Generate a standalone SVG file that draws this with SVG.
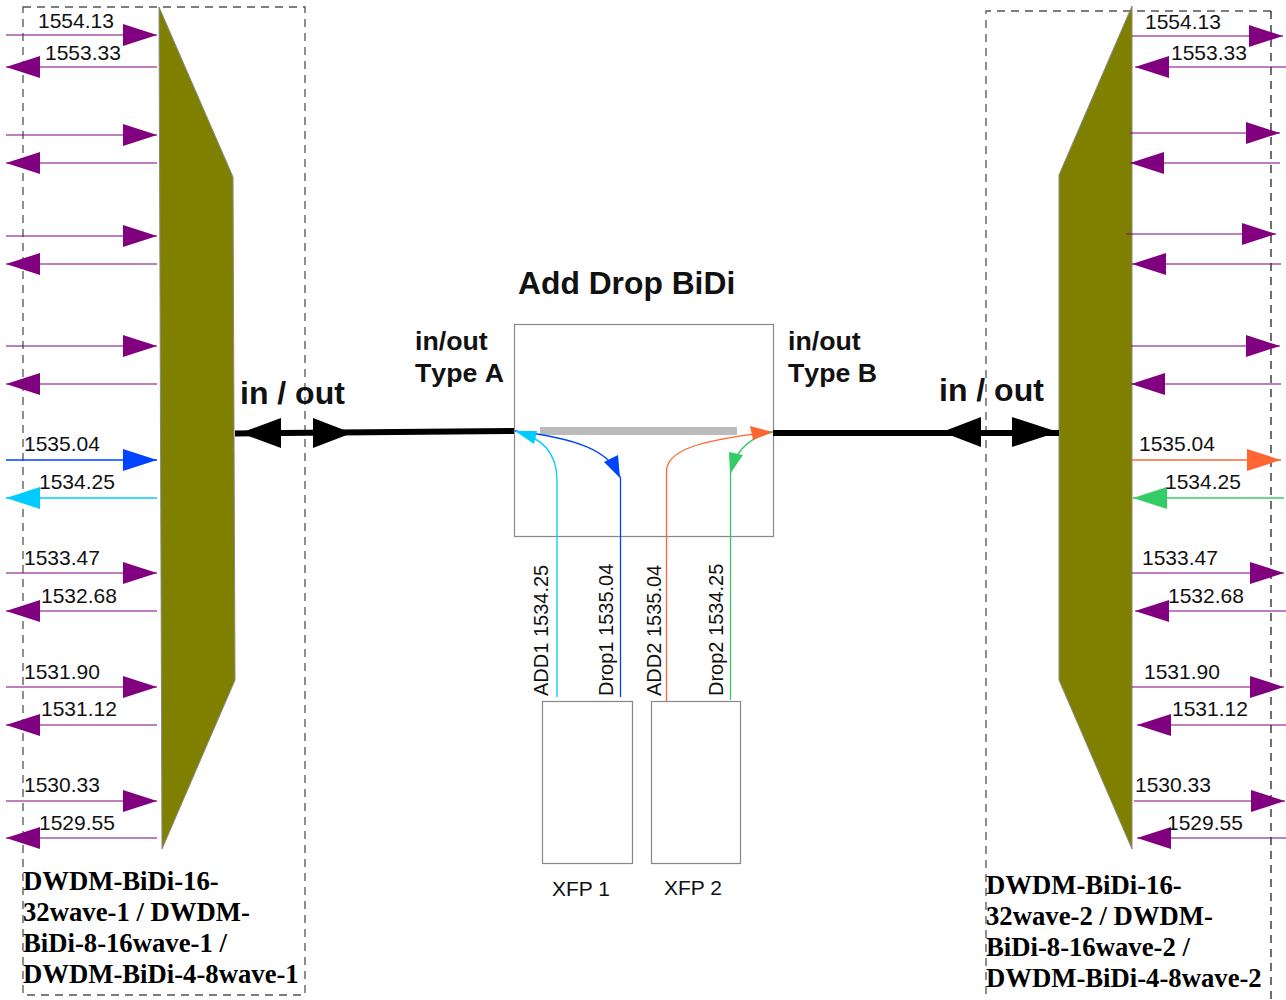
<svg xmlns="http://www.w3.org/2000/svg" width="1286" height="1000" viewBox="0 0 1286 1000">
<style>
text{font-family:"Liberation Sans",Arial,sans-serif;fill:#111}
.w{font-size:21px}
.r{font-size:20px}
.b{font-weight:bold;font-size:26.7px;font-kerning:none}
.io{font-weight:bold;font-size:32px}
.t{font-weight:bold;font-size:31.8px}
.s{font-family:"Liberation Serif","Times New Roman",serif;font-weight:bold;font-size:26.7px;fill:#000}
.d{fill:none;stroke:#555;stroke-width:1.3;stroke-dasharray:8 6}
.box{fill:#fff;stroke:#888;stroke-width:1.2}
.mux{fill:#808000;stroke:#888;stroke-width:1}
.p{stroke:#800080;stroke-width:1.2;fill:none}
.pb{stroke:#0044ff;stroke-width:1.4;fill:none}
.pc{stroke:#00ccff;stroke-width:1.4;fill:none}
.po{stroke:#ff6633;stroke-width:1.4;fill:none}
.pg{stroke:#33cc66;stroke-width:1.4;fill:none}
.c{fill:none;stroke-width:1.3}
</style>
<defs>
<marker id="mp" markerUnits="userSpaceOnUse" markerWidth="34" markerHeight="24" refX="34" refY="12" orient="auto"><path d="M0 1L34 12L0 23Z" fill="#800080"/></marker>
<marker id="mb" markerUnits="userSpaceOnUse" markerWidth="34" markerHeight="24" refX="34" refY="12" orient="auto"><path d="M0 1L34 12L0 23Z" fill="#0044ff"/></marker>
<marker id="mc" markerUnits="userSpaceOnUse" markerWidth="34" markerHeight="24" refX="34" refY="12" orient="auto"><path d="M0 1L34 12L0 23Z" fill="#00ccff"/></marker>
<marker id="mo" markerUnits="userSpaceOnUse" markerWidth="34" markerHeight="24" refX="34" refY="12" orient="auto"><path d="M0 1L34 12L0 23Z" fill="#ff6633"/></marker>
<marker id="mg" markerUnits="userSpaceOnUse" markerWidth="34" markerHeight="24" refX="34" refY="12" orient="auto"><path d="M0 1L34 12L0 23Z" fill="#33cc66"/></marker>
</defs>
<g id="frame-left"><rect class="d" x="23" y="7" width="282" height="988"/></g>
<g id="frame-right"><path class="d" d="M1271 11H986V1000"/><path class="d" style="stroke:#222" d="M1271 11V1000"/></g>
<g id="mux-left"><path class="mux" d="M159 7L233 177L235 680L162 849Z"/>
<text class="s"><tspan x="23" y="890">DWDM-BiDi-16-</tspan><tspan x="23" y="921">32wave-1 / DWDM-</tspan><tspan x="23" y="952">BiDi-8-16wave-1 /</tspan><tspan x="23" y="983">DWDM-BiDi-4-8wave-1</tspan></text></g>
<g id="mux-right"><path class="mux" d="M1132 6L1059 175L1059 680L1132 849Z"/>
<text class="s"><tspan x="986" y="894">DWDM-BiDi-16-</tspan><tspan x="986" y="925">32wave-2 / DWDM-</tspan><tspan x="986" y="956">BiDi-8-16wave-2 /</tspan><tspan x="986" y="987">DWDM-BiDi-4-8wave-2</tspan></text></g>
<g id="add-drop-bidi"><rect class="box" x="514.500" y="324.500" width="259" height="212"/><rect x="540" y="427" width="197" height="8" fill="#bbb"/>
<text class="t" x="518" y="294">Add Drop BiDi</text>
<text class="b" x="415" y="350">in/out</text><text class="b" x="415" y="382">Type A</text>
<text class="b" x="788" y="350">in/out</text><text class="b" x="788" y="382">Type B</text></g>
<g id="xfp-1"><rect class="box" x="542.500" y="701.500" width="90" height="162"/><text class="w" x="552" y="896">XFP 1</text></g>
<g id="xfp-2"><rect class="box" x="651.500" y="701.500" width="89" height="162"/><text class="w" x="664" y="895">XFP 2</text></g>
<g id="connectors">
<path class="p" marker-end="url(#mp)" d="M6 35H157"/><path class="p" marker-end="url(#mp)" d="M157 67H6"/>
<path class="p" marker-end="url(#mp)" d="M6 135H157"/><path class="p" marker-end="url(#mp)" d="M157 163H6"/>
<path class="p" marker-end="url(#mp)" d="M6 236H157"/><path class="p" marker-end="url(#mp)" d="M157 264H6"/>
<path class="p" marker-end="url(#mp)" d="M6 346H157"/><path class="p" marker-end="url(#mp)" d="M157 384H6"/>
<path class="pb" marker-end="url(#mb)" d="M6 460H157"/><path class="pc" marker-end="url(#mc)" d="M157 498H6"/>
<path class="p" marker-end="url(#mp)" d="M6 573H157"/><path class="p" marker-end="url(#mp)" d="M157 611H6"/>
<path class="p" marker-end="url(#mp)" d="M6 687H157"/><path class="p" marker-end="url(#mp)" d="M157 725H6"/>
<path class="p" marker-end="url(#mp)" d="M6 801H157"/><path class="p" marker-end="url(#mp)" d="M157 838H6"/>
<path class="p" marker-end="url(#mp)" d="M1132 36H1283"/><path class="p" marker-end="url(#mp)" d="M1286 67H1135"/>
<path class="p" marker-end="url(#mp)" d="M1130 133H1280"/><path class="p" marker-end="url(#mp)" d="M1280 163H1130"/>
<path class="p" marker-end="url(#mp)" d="M1126 234H1276"/><path class="p" marker-end="url(#mp)" d="M1281 264H1132"/>
<path class="p" marker-end="url(#mp)" d="M1131 346H1280"/><path class="p" marker-end="url(#mp)" d="M1281 384H1131"/>
<path class="po" marker-end="url(#mo)" d="M1132 460H1281"/><path class="pg" marker-end="url(#mg)" d="M1284 498H1133"/>
<path class="p" marker-end="url(#mp)" d="M1132 573H1284"/><path class="p" marker-end="url(#mp)" d="M1286 611H1135"/>
<path class="p" marker-end="url(#mp)" d="M1132 687H1284"/><path class="p" marker-end="url(#mp)" d="M1286 725H1137"/>
<path class="p" marker-end="url(#mp)" d="M1134 801H1285"/><path class="p" marker-end="url(#mp)" d="M1286 838H1137"/>
<path d="M235 433.500L514 431" stroke="#000" stroke-width="6" fill="none"/>
<path d="M773 433H1059" stroke="#000" stroke-width="6" fill="none"/>
<path d="M240 433L281 418V448Z M352 433L313 418V448Z M942 432L981 417V447Z M1058 432L1012 417V447Z" fill="#000"/>
<path class="c" stroke="#00ccff" d="M557 697V480C557 455 545 438 515 431"/>
<path class="c" stroke="#0044ff" d="M620.500 697V478C610 450 575 438 515 431"/>
<path class="c" stroke="#ff6633" d="M666.500 701V472C666 450 700 440 772 432"/>
<path class="c" stroke="#33cc66" d="M730.500 700V474C735 450 750 437 773 432"/>
<path d="M515 431L537 431L534 444Z" fill="#00ccff"/>
<path d="M620 478L604 462L618 455Z" fill="#0044ff"/>
<path d="M773 432L750 426L753 440Z" fill="#ff6633"/>
<path d="M730 474L729 452L743 455Z" fill="#33cc66"/>
</g>
<g id="labels">
<text class="w" x="38" y="28">1554.13</text><text class="w" x="45" y="60">1553.33</text>
<text class="w" x="24" y="451">1535.04</text><text class="w" x="39" y="489">1534.25</text>
<text class="w" x="24" y="565">1533.47</text><text class="w" x="41" y="603">1532.68</text>
<text class="w" x="24" y="679">1531.90</text><text class="w" x="41" y="716">1531.12</text>
<text class="w" x="24" y="792">1530.33</text><text class="w" x="39" y="830">1529.55</text>
<text class="w" x="1145" y="29">1554.13</text><text class="w" x="1171" y="60">1553.33</text>
<text class="w" x="1139" y="451">1535.04</text><text class="w" x="1165" y="489">1534.25</text>
<text class="w" x="1142" y="565">1533.47</text><text class="w" x="1168" y="603">1532.68</text>
<text class="w" x="1144" y="679">1531.90</text><text class="w" x="1172" y="716">1531.12</text>
<text class="w" x="1135" y="792">1530.33</text><text class="w" x="1167" y="830">1529.55</text>
<text class="io" x="240" y="404">in / out</text><text class="io" x="939" y="401">in / out</text>
<text class="r" transform="translate(548 696) rotate(-90)">ADD1 1534.25</text>
<text class="r" transform="translate(613 696) rotate(-90)">Drop1 1535.04</text>
<text class="r" transform="translate(661 696) rotate(-90)">ADD2 1535.04</text>
<text class="r" transform="translate(723 696) rotate(-90)">Drop2 1534.25</text>
</g>
</svg>
